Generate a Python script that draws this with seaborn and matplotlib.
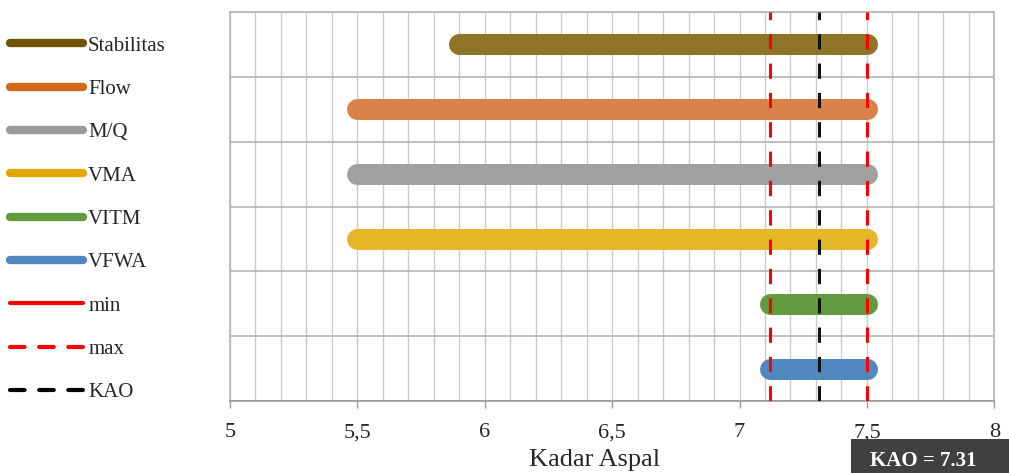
import matplotlib
matplotlib.use("Agg")
import matplotlib.pyplot as plt
import seaborn as sns
import pandas as pd
import numpy as np
from matplotlib.lines import Line2D
from matplotlib.patches import Rectangle
from matplotlib.ticker import MultipleLocator, FuncFormatter

# ---- data ----
params = ["Stabilitas", "Flow", "M/Q", "VMA", "VITM", "VFWA"]
range_start = [5.9, 5.5, 5.5, 5.5, 7.12, 7.12]
range_end = [7.5, 7.5, 7.5, 7.5, 7.5, 7.5]
kadar_min = 7.12
kadar_max = 7.5
kao = 7.31
colors = ["#8E7426", "#D9824A", "#A0A0A0", "#E6B629", "#629A3F", "#4F88BE"]
cap_colors = ["#705400", "#D2691E", "#9B9B9B", "#E2A800", "#629A3F", "#4F88BE"]

sns.set_theme(style="white")
plt.rcParams["font.family"] = ["Liberation Serif", "DejaVu Serif"]

rows = []
for i, (p, s, e) in enumerate(zip(params, range_start, range_end)):
    rows.append({"param": p, "kadar": s, "row": i})
    rows.append({"param": p, "kadar": e, "row": i})
df = pd.DataFrame(rows)

fig = plt.figure(figsize=(10.09, 4.73), dpi=100)
ax = fig.add_axes([230 / 1009, 72 / 473, 764.3 / 1009, 389 / 473])

# grid
for xv in np.arange(5.0, 8.0001, 0.1):
    ax.axvline(xv, color="#cbcbcb", lw=1.0, zorder=0)
for yv in np.arange(-0.5, 5.51, 1.0):
    ax.axhline(yv, color="#b4b4b4", lw=1.2, zorder=0)

sns.lineplot(data=df, x="kadar", y="row", hue="param", palette=dict(zip(params, colors)),
             units="param", estimator=None, sort=False, linewidth=15.1,
             solid_capstyle="round", legend=False, ax=ax, zorder=3)

# darker right end caps (clipped to the right of the range end)
end_df = df.groupby("param", sort=False).tail(1)
ln_before = len(ax.lines)
sns.lineplot(data=end_df, x="kadar", y="row", hue="param",
             palette=dict(zip(params, cap_colors)), units="param", estimator=None,
             sort=False, linewidth=15.1, marker="o", markersize=0,
             solid_capstyle="round", legend=False, ax=ax, zorder=3.5)
for ln, e in zip(ax.lines[ln_before:], range_end):
    xd = ln.get_xdata()
    ln.set_xdata([xd[0], xd[0] + 1e-4])
    ln.set_ydata([ln.get_ydata()[0]] * 2)
    ln.set_clip_path(Rectangle((e, -1), 1, 8, transform=ax.transData))

dash = (5, 4.6)
ax.axvline(kadar_min, color="#ff0000", lw=2.2, dashes=dash, zorder=4)
ax.axvline(kadar_max, color="#ff0000", lw=2.2, dashes=dash, zorder=4)
ax.axvline(kao, color="#111111", lw=2.2, dashes=dash, zorder=4)

ax.set_xlim(5, 8)
ax.set_ylim(5.5, -0.5)
ax.set_yticks([])
ax.set_ylabel("")
ax.xaxis.set_major_locator(MultipleLocator(0.5))
ax.xaxis.set_major_formatter(FuncFormatter(lambda v, p: ("%g" % v).replace(".", ",")))
ax.tick_params(axis="x", which="major", bottom=True, length=5, width=1, color="#999999",
               labelsize=16, pad=11)
ax.set_xlabel("Kadar Aspal", fontsize=19)
ax.xaxis.label.set_va("baseline")
ax.xaxis.set_label_coords((595 - 230) / 764.3, (401 - 466) / 389)
for side, sp in ax.spines.items():
    sp.set_color("#b4b4b4")
    sp.set_linewidth(1.2)
ax.spines["bottom"].set_color("#999999")

# legend
handles = [Line2D([], [], color=c, lw=6, solid_capstyle="round") for c in cap_colors[:4]]
handles += [Line2D([], [], color=c, lw=6, solid_capstyle="round") for c in colors[4:]]
handles.append(Line2D([], [], color="#ff0000", lw=3, solid_capstyle="round"))
handles.append(Line2D([], [], color="#ff0000", lw=3, dashes=(3.5, 3.5), dash_capstyle="round"))
handles.append(Line2D([], [], color="#000000", lw=3, dashes=(3.5, 3.5), dash_capstyle="round"))
labels = params + ["min", "max", "KAO"]
fig.legend(handles, labels, loc="upper left", bbox_to_anchor=(10 / 1009, 1 - 36 / 473),
           frameon=False, fontsize=15, handlelength=3.5, handletextpad=0.25,
           labelspacing=1.14, borderpad=0, borderaxespad=0)

# KAO box
fig.patches.append(Rectangle((851 / 1009, 0), (1009 - 851) / 1009, (473 - 439) / 473,
                             transform=fig.transFigure, facecolor="#404040",
                             edgecolor="none", zorder=10))
fig.text(923.5 / 1009, (473 - 466) / 473, "KAO = 7.31", ha="center", va="baseline",
         color="white", fontsize=15, fontweight="bold", zorder=11)

fig.savefig("out.png", dpi=100)
